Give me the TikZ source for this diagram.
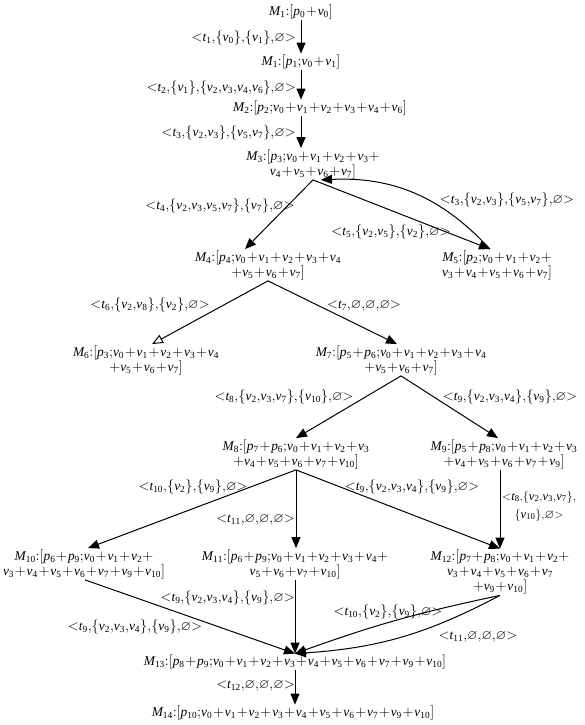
\documentclass[tikz,border=0pt]{standalone}
\usepackage{amssymb}
\usepackage{mathspec}
\setmainfont{Liberation Serif}
\setmathsfont(Digits,Latin){Liberation Serif}
\usetikzlibrary{arrows.meta}
\thinmuskip=0mu
\medmuskip=1mu
\thickmuskip=0mu
\begin{document}
\begin{tikzpicture}[x=1pt,y=-1pt,font=\fontsize{13.4}{15}\selectfont,
  state/.style={align=center,inner sep=1pt},
  lbl/.style={inner sep=1pt},
  arr/.style={-{Triangle[length=11pt,width=9pt]},line width=1pt},
  oarr/.style={-{Triangle[open,length=11pt,width=9pt]},line width=1pt}]
 \useasboundingbox (0,0) rectangle (584,725);
 % markings
 \node[state] (M1a) at (301,12) {$M_1:[p_0+v_0]$};
 \node[state] (M1b) at (301,62) {$M_1:[p_1;v_0+v_1]$};
 \node[state] (M2) at (320,108) {$M_2:[p_2;v_0+v_1+v_2+v_3+v_4+v_6]$};
 \node[state] (M3) at (313,164) {$M_3:[p_3;v_0+v_1+v_2+v_3+$\\$v_4+v_5+v_6+v_7]$};
 \node[state] (M4) at (268,265) {$M_4:[p_4;v_0+v_1+v_2+v_3+v_4$\\$+v_5+v_6+v_7]$};
 \node[state] (M5) at (497,265) {$M_5:[p_2;v_0+v_1+v_2+$\\$v_3+v_4+v_5+v_6+v_7]$};
 \node[state] (M6) at (146,360) {$M_6:[p_3;v_0+v_1+v_2+v_3+v_4$\\$+v_5+v_6+v_7]$};
 \node[state] (M7) at (401,360) {$M_7:[p_5+p_6;v_0+v_1+v_2+v_3+v_4$\\$+v_5+v_6+v_7]$};
 \node[state] (M8) at (296,454) {$M_8:[p_7+p_6;v_0+v_1+v_2+v_3$\\$+v_4+v_5+v_6+v_7+v_{10}]$};
 \node[state] (M9) at (504,454) {$M_9:[p_5+p_8;v_0+v_1+v_2+v_3$\\$+v_4+v_5+v_6+v_7+v_9]$};
 \node[state] (M10) at (84,564) {$M_{10}:[p_6+p_9;v_0+v_1+v_2+$\\$v_3+v_4+v_5+v_6+v_7+v_9+v_{10}]$};
 \node[state] (M11) at (295,564) {$M_{11}:[p_6+p_9;v_0+v_1+v_2+v_3+v_4+$\\$v_5+v_6+v_7+v_{10}]$};
 \node[state] (M12) at (500,572) {$M_{12}:[p_7+p_8;v_0+v_1+v_2+$\\$v_3+v_4+v_5+v_6+v_7$\\$+v_9+v_{10}]$};
 \node[state] (M13) at (295,662) {$M_{13}:[p_8+p_9;v_0+v_1+v_2+v_3+v_4+v_5+v_6+v_7+v_9+v_{10}]$};
 \node[state] (M14) at (293,713) {$M_{14}:[p_{10};v_0+v_1+v_2+v_3+v_4+v_5+v_6+v_7+v_9+v_{10}]$};
 % transitions
 \draw[arr] (M1a.south) -- (M1b.north);
 \draw[arr] (M1b.south) -- (M1b.south |- M2.north);
 \draw[arr] (M1b.south |- M2.south) -- (M1b.south |- M3.north);
 \draw[arr] (M3.south) -- ([xshift=-23pt]M4.north);
 \draw[arr] (M3.south) -- ([xshift=-7pt]M5.north);
 \draw[arr] ([xshift=-7pt]M5.north) to[bend right=25] ([xshift=8pt]M3.south);
 \draw[oarr] (M4.south) -- ([xshift=6pt]M6.north);
 \draw[arr] (M4.south) -- ([xshift=-4pt]M7.north);
 \draw[arr] (M7.south) -- (M8.north);
 \draw[arr] (M7.south) -- ([xshift=-6pt]M9.north);
 \draw[arr] (M8.south) -- ([xshift=4pt]M10.north);
 \draw[arr] (M8.south) -- (M8.south |- M11.north);
 \draw[arr] (M8.south) -- (M12.north);
 \draw[arr] ([xshift=-4pt]M9.south) -- (M12.north);
 \draw[arr] ([xshift=1pt]M10.south) -- (M13.north);
 \draw[arr] (M11.south) -- (M13.north);
 \draw[arr] (M12.south) to[bend right=4] (M13.north);
 \draw[arr] (M12.south) to[bend left=12] (M13.north);
 \draw[arr] (M13.south) -- (M13.south |- M14.north);
 % transition labels
 \node[lbl,anchor=east] (l1) at (297,38) {${<}t_1,\{v_0\},\{v_1\},\varnothing{>}$};
 \node[lbl,anchor=east] (l2) at (297,88) {${<}t_2,\{v_1\},\{v_2,v_3,v_4,v_6\},\varnothing{>}$};
 \node[lbl,anchor=east] (l3) at (297,133) {${<}t_3,\{v_2,v_3\},\{v_5,v_7\},\varnothing{>}$};
 \node[lbl] (l4) at (220,206) {${<}t_4,\{v_2,v_3,v_5,v_7\},\{v_7\},\varnothing{>}$};
 \node[lbl] (l5) at (391,232) {${<}t_5,\{v_2,v_5\},\{v_2\},\varnothing{>}$};
 \node[lbl] (l3b) at (507,200) {${<}t_3,\{v_2,v_3\},\{v_5,v_7\},\varnothing{>}$};
 \node[lbl] (l6) at (150,305) {${<}t_6,\{v_2,v_8\},\{v_2\},\varnothing{>}$};
 \node[lbl] (l7) at (364,306) {${<}t_7,\varnothing,\varnothing,\varnothing{>}$};
 \node[lbl] (l8) at (284,397) {${<}t_8,\{v_2,v_3,v_7\},\{v_{10}\},\varnothing{>}$};
 \node[lbl] (l9) at (510,397) {${<}t_9,\{v_2,v_3,v_4\},\{v_9\},\varnothing{>}$};
 \node[lbl] (l10) at (193,487) {${<}t_{10},\{v_2\},\{v_9\},\varnothing{>}$};
 \node[lbl] (l9b) at (412,487) {${<}t_9,\{v_2,v_3,v_4\},\{v_9\},\varnothing{>}$};
 \node[lbl,anchor=east] (l11) at (296,520) {${<}t_{11},\varnothing,\varnothing,\varnothing{>}$};
 \node[lbl,align=center,anchor=west,font=\fontsize{12.5}{15}\selectfont] (l8b) at (501,506) {${<}t_8,\{v_2,v_3,v_7\},$\\[3pt]$\{v_{10}\},\varnothing{>}$};
 \node[lbl,anchor=east] (l9c) at (296,598) {${<}t_9,\{v_2,v_3,v_4\},\{v_9\},\varnothing{>}$};
 \node[lbl] (l9d) at (135,627) {${<}t_9,\{v_2,v_3,v_4\},\{v_9\},\varnothing{>}$};
 \node[lbl] (l10b) at (388,612) {${<}t_{10},\{v_2\},\{v_9\},\varnothing{>}$};
 \node[lbl] (l11b) at (478,637) {${<}t_{11},\varnothing,\varnothing,\varnothing{>}$};
 \node[lbl,anchor=east] (l12) at (296,686) {${<}t_{12},\varnothing,\varnothing,\varnothing{>}$};
\end{tikzpicture}
\end{document}
